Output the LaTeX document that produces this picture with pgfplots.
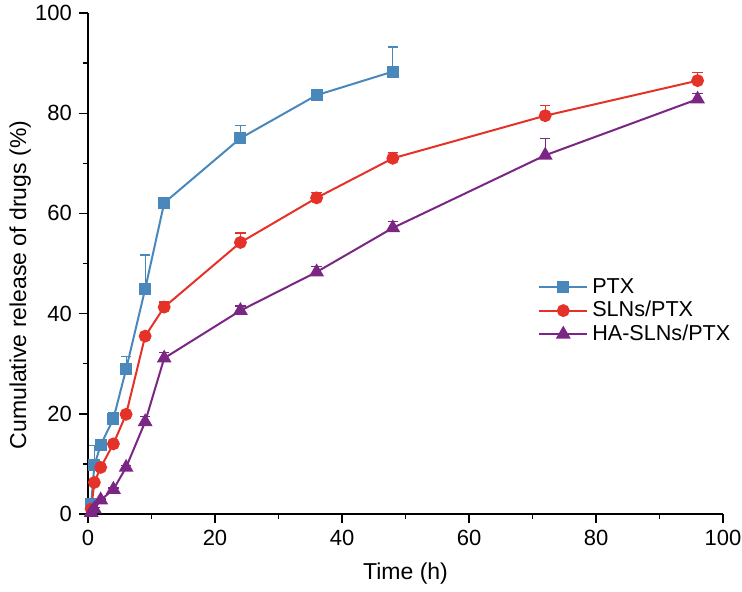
\documentclass[border=0pt]{standalone}
\usepackage{fontspec}
\setmainfont{Liberation Sans}
\usepackage{pgfplots}
\pgfplotsset{compat=1.18}
\usepackage{pgfplotstable}

\definecolor{cptx}{RGB}{74,136,188}
\definecolor{csln}{RGB}{229,50,40}
\definecolor{chas}{RGB}{123,37,132}

\pgfplotsset{sdbars/.style={
    error bars/y dir=plus, error bars/y explicit,
    error bars/error bar style={line width=0.6pt},
    error bars/error mark options={rotate=90, mark size=2.6pt, line width=0.6pt}}}

% time (h), release (%), SD (upper bar only)
\pgfplotstableread{
t y e
0.5 2.0 0.5
1 9.7 4.0
2 13.8 0.3
4 19.0 1.2
6 28.9 2.6
9 44.9 6.8
12 62.1 1.1
24 75.0 2.6
36 83.6 0.3
48 88.3 4.9
}\ptx
\pgfplotstableread{
t y e
0.5 1.0 0.3
1 6.3 0.3
2 9.3 0.3
4 14.0 0.4
6 19.9 0.4
9 35.5 0.8
12 41.3 1.0
24 54.2 1.9
36 63.1 1.0
48 71.0 1.1
72 79.5 2.1
96 86.5 1.6
}\slns
\pgfplotstableread{
t y e
0.5 0.3 0.2
1 1.0 0.3
2 2.8 0.2
4 4.9 0.3
6 9.3 0.4
9 18.4 1.0
12 31.1 1.2
24 40.6 0.9
36 48.3 1.1
48 57.1 1.3
72 71.6 3.4
96 82.8 1.2
}\haslns

\begin{document}
\begin{tikzpicture}
\begin{axis}[
    scale only axis,
    width=317.5pt, height=250.5pt,
    xmin=0, xmax=100, ymin=0, ymax=100,
    xtick={0,20,...,100}, ytick={0,20,...,100},
    minor tick num=1,
    axis x line*=bottom, axis y line*=left,
    axis line style={-, line width=0.7pt},
    tick align=outside,
    major tick length=4.5pt, minor tick length=2.5pt,
    tick style={line width=0.7pt, black},
    clip=false,
    /pgf/number format/assume math mode=true,
    tick label style={font=\fontsize{11}{13}\selectfont},
    label style={font=\fontsize{11.5}{13}\selectfont},
    xlabel={Time (h)},
    ylabel={Cumulative release of drugs (\%)},
    xlabel style={at={(axis description cs:0.5,-0.118)}, anchor=center},
    ylabel style={at={(axis description cs:-0.107,0.457)}, anchor=center},
    legend style={draw=none, fill=none, at={(0.699,0.487)}, anchor=north west,
        font=\fontsize{10.8}{13}\selectfont, row sep=-1.5pt},
    legend cell align=left,
    legend image code/.code={\draw[mark repeat=2,mark phase=2] plot coordinates {(0pt,0pt)(12pt,0pt)(24pt,0pt)};},
    every axis plot/.append style={line width=1pt},
]
\addplot[color=cptx, mark=square*, mark size=2.5pt, mark options={solid}, sdbars] table[x=t, y=y, y error=e] {\ptx};
\addplot[color=csln, mark=*, mark size=2.7pt, mark options={solid}, sdbars] table[x=t, y=y, y error=e] {\slns};
\addplot[color=chas, mark=triangle*, mark size=3.3pt, mark options={solid}, sdbars] table[x=t, y=y, y error=e] {\haslns};
\legend{PTX, SLNs/PTX, HA-SLNs/PTX}
\end{axis}
\pgfresetboundingbox
\useasboundingbox (-44pt,-38.5pt) rectangle (327pt,257pt);
\end{tikzpicture}
\end{document}
